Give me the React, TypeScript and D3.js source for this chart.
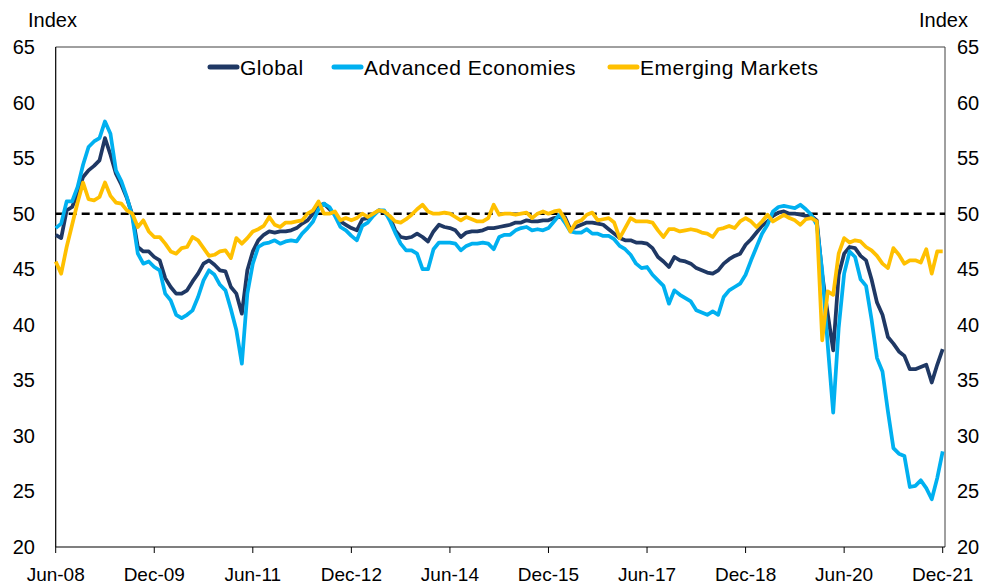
import * as d3 from "d3";

// monthly, Jun-08 .. Dec-21
const global = [
  48.1, 47.8, 50.3, 50.6, 51.8, 53.3, 53.9, 54.3, 54.8, 56.8,
  55.3, 53.6, 52.6, 51.4, 49.9, 47.0, 46.6, 46.6, 46.1, 45.8,
  44.2, 43.4, 42.8, 42.8, 43.1, 43.9, 44.6, 45.5, 45.8, 45.4,
  44.9, 44.8, 43.4, 42.8, 41.0, 44.9, 46.6, 47.6, 48.1, 48.4,
  48.3, 48.4, 48.4, 48.5, 48.7, 49.1, 49.4, 50.0, 50.7, 50.9,
  50.4, 49.9, 49.3, 49.0, 48.7, 48.5, 49.5, 49.6, 49.9, 50.3,
  50.1, 49.7, 48.5, 47.9, 47.8, 47.9, 48.2, 47.9, 47.5, 48.4,
  49.0, 48.8, 48.7, 48.5, 47.9, 48.3, 48.4, 48.4, 48.5, 48.7,
  48.7, 48.8, 48.9, 49.0, 49.2, 49.2, 49.4, 49.3, 49.3, 49.4,
  49.4, 49.6, 49.7, 49.7, 48.6, 48.8, 49.0, 49.2, 49.2, 49.1,
  49.0, 48.6, 48.2, 47.8, 47.6, 47.6, 47.4, 47.4, 47.3, 46.9,
  46.1, 45.7, 45.2, 46.1, 45.8, 45.7, 45.5, 45.1, 44.9, 44.7,
  44.6, 44.9, 45.5, 45.9, 46.2, 46.4, 47.2, 47.7, 48.3, 48.9,
  49.3, 49.8, 50.1, 50.2, 50.0, 50.0, 49.9, 49.8, 49.8, 49.4,
  44.5, 41.0, 37.7, 44.5, 46.4, 47.0, 46.9, 46.2, 45.8, 44.1,
  42.0, 40.9, 38.9, 38.3, 37.6, 37.2, 36.0, 36.0, 36.2, 36.4,
  34.8, 36.4, 37.8,
];

const advanced = [
  48.7, 49.1, 51.1, 51.1, 52.4, 54.4, 56.0, 56.5, 56.8, 58.3,
  57.2, 53.9, 52.9, 51.5, 49.7, 46.4, 45.5, 45.7, 45.2, 44.9,
  42.8, 42.2, 40.9, 40.6, 40.9, 41.3, 42.5, 44.0, 44.9, 44.5,
  43.6, 43.1, 41.4, 39.5, 36.5, 42.8, 45.5, 47.0, 47.3, 47.4,
  47.6, 47.3, 47.5, 47.6, 47.5, 48.2, 48.7, 49.3, 50.4, 50.9,
  50.6, 49.8, 48.8, 48.5, 48.0, 47.6, 48.9, 49.2, 49.8, 50.3,
  50.3, 49.4, 48.3, 47.3, 46.7, 46.7, 46.4, 45.0, 45.0, 46.8,
  47.4, 47.4, 47.4, 47.3, 46.7, 47.1, 47.3, 47.3, 47.4, 47.3,
  46.8, 47.9, 48.1, 48.1, 48.5, 48.7, 48.8, 48.5, 48.6, 48.5,
  48.7, 49.3, 49.9, 49.2, 48.4, 48.3, 48.3, 48.6, 48.2, 48.2,
  48.0, 48.0, 47.7, 47.1, 46.8, 46.3, 45.5, 45.1, 45.2, 44.5,
  44.0, 43.5, 41.9, 43.1, 42.7, 42.4, 42.1, 41.3, 41.1, 40.9,
  41.2, 40.9, 42.5, 43.1, 43.4, 43.7, 44.5, 45.8, 47.0, 48.2,
  49.0, 50.2, 50.6, 50.7, 50.6, 50.5, 50.8, 50.4, 49.9, 49.0,
  44.8, 38.2, 32.1, 39.7, 44.6, 46.6, 46.1, 44.1, 43.5, 40.5,
  37.0, 35.8, 32.2, 28.9, 28.4, 28.2, 25.4, 25.5, 26.0, 25.3,
  24.3, 26.2, 28.6,
];

const emerging = [
  45.7, 44.6, 47.0, 49.0, 51.0, 52.8, 51.3, 51.2, 51.5, 52.8,
  51.6, 51.0, 50.9, 50.3, 50.0, 48.8, 49.4, 48.4, 47.9, 47.9,
  47.3, 46.6, 46.4, 46.9, 47.0, 47.9, 47.6, 46.9, 46.2, 46.3,
  46.6, 46.7, 46.0, 47.8, 47.3, 47.8, 48.4, 48.6, 48.9, 49.7,
  49.0, 48.8, 49.2, 49.2, 49.3, 49.4, 50.0, 50.3, 51.1, 50.0,
  50.0, 50.2, 49.4, 49.6, 49.4, 49.6, 50.0, 49.7, 50.0, 50.3,
  50.2, 49.8, 49.3, 49.2, 49.5, 49.9, 50.4, 50.8, 50.2, 50.0,
  50.0, 50.1, 50.0, 49.7, 49.4, 49.7, 49.5, 49.3, 49.3, 49.6,
  50.8, 49.9, 50.0, 50.0, 49.9, 50.0, 50.1, 49.6, 50.0, 50.2,
  50.0, 50.2, 50.3, 49.5, 48.4, 49.2, 49.4, 49.9, 50.1, 49.4,
  49.5, 49.6, 49.2, 47.8, 48.7, 49.6, 49.3, 49.3, 49.3, 49.2,
  48.5, 47.9, 48.6, 48.6, 48.4, 48.5, 48.6, 48.5, 48.3, 48.2,
  47.9, 48.6, 48.7, 48.9, 48.7, 49.3, 49.6, 49.3, 48.8, 49.3,
  49.9, 49.3, 49.6, 49.9, 49.6, 49.4, 49.0, 49.5, 49.6, 49.3,
  38.6, 43.0, 42.7, 46.4, 47.8, 47.4, 47.6, 47.5, 47.0, 46.7,
  46.2, 45.5, 45.1, 46.9, 46.3, 45.5, 45.8, 45.8, 45.6, 46.8,
  44.6, 46.6, 46.6,
];

const months = d3.timeMonth.range(new Date(2008, 5, 1), new Date(2022, 0, 1));
const yTicks = [20, 25, 30, 35, 40, 45, 50, 55, 60, 65];
const xTickEvery = 18;

const series = [
  { name: "Global", values: global, color: "#1f3864" },
  { name: "Advanced Economies", values: advanced, color: "#00b0f0" },
  { name: "Emerging Markets", values: emerging, color: "#ffc000" },
];

export default function App() {
  const width = 992;
  const height = 584;
  const left = 55.7;
  const right = 945;
  const top = 47;
  const bottom = 547;

  const x = d3.scaleLinear().domain([0, months.length - 1]).range([left, 942.7]);
  const y = d3.scaleLinear().domain([20, 65]).range([bottom, top]);
  const fmt = d3.timeFormat("%b-%y");
  const line = d3
    .line<number>()
    .x((_, i) => x(i))
    .y((d) => y(d));

  const xTicks = d3.range(0, months.length, xTickEvery);
  const legendX = [208, 332, 608];
  const font = "Liberation Sans, Arial, sans-serif";

  return (
    <div style={{ position: "fixed", left: 0, top: 0 }}>
      <svg width={width} height={height} fontFamily={font} style={{ display: "block" }}>
        <rect width={width} height={height} fill="#fff" />
        {/* frame */}
        <line x1={left} x2={right} y1={top} y2={top} stroke="#404040" strokeWidth={1} />
        <line x1={right} x2={right} y1={top} y2={bottom} stroke="#404040" strokeWidth={1} />
        <line x1={left} x2={left} y1={top} y2={bottom} stroke="#000" strokeWidth={1.2} />
        <line x1={left} x2={right} y1={bottom} y2={bottom} stroke="#000" strokeWidth={1.2} />

        {xTicks.map((i) => (
          <g key={i}>
            <line x1={x(i)} x2={x(i)} y1={bottom} y2={bottom + 6} stroke="#000" />
            <text x={x(i)} y={581} textAnchor="middle" fontSize={19}>
              {fmt(months[i])}
            </text>
          </g>
        ))}
        {yTicks.map((t) => (
          <g key={t}>
            <text x={35} y={y(t) + 7} textAnchor="end" fontSize={20}>
              {t}
            </text>
            <text x={957} y={y(t) + 7} textAnchor="start" fontSize={20}>
              {t}
            </text>
          </g>
        ))}
        <text x={28} y={27} fontSize={20}>Index</text>
        <text x={968} y={27} fontSize={20} textAnchor="end">Index</text>

        <line
          x1={left}
          x2={right}
          y1={y(50)}
          y2={y(50)}
          stroke="#000"
          strokeWidth={2.5}
          strokeDasharray="8,5"
        />

        {series.map((s) => (
          <path
            key={s.name}
            d={line(s.values) ?? ""}
            fill="none"
            stroke={s.color}
            strokeWidth={3.75}
            strokeLinejoin="round"
          />
        ))}

        {series.map((s, i) => (
          <g key={s.name} transform={`translate(${legendX[i]}, 67)`}>
            <line x1={2} x2={29} y1={0} y2={0} stroke={s.color} strokeWidth={5} strokeLinecap="round" />
            <text x={32} y={7.5} fontSize={21} letterSpacing={0.5}>
              {s.name}
            </text>
          </g>
        ))}
      </svg>
    </div>
  );
}
